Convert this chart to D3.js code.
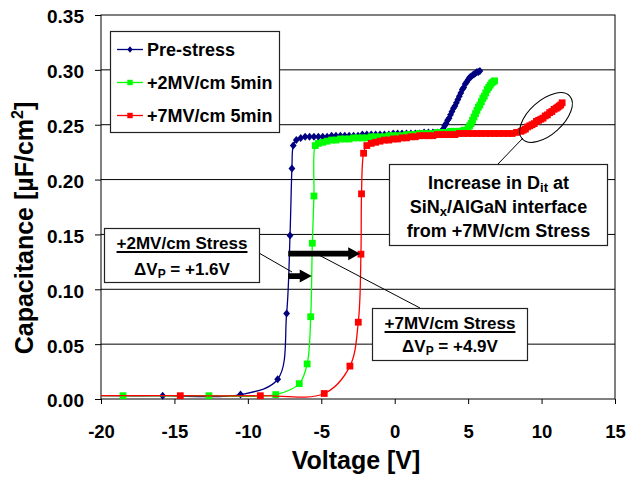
<!DOCTYPE html>
<html>
<head>
<meta charset="utf-8">
<script src="https://cdn.jsdelivr.net/npm/d3@7"></script>
<style>
body { margin: 0; background: #fff; }
text { font-family: "Liberation Sans", Arial, sans-serif; font-weight: bold; fill: #000; }
</style>
</head>
<body>
<div id="chart"></div>
<script>
// C-V sweeps : voltage [V] and capacitance [uF/cm2]
var preV = [-20, -15.8, -10.5, -7.97, -7.36, -7.13, -7.0, -6.91,
  -6.7, -6.4, -6.1, -5.8, -5.5, -5.2, -4.9, -4.6, -4.3, -4.0, -3.7, -3.4, -3.1, -2.8, -2.5, -2.2, -1.9, -1.6,
  -1.3, -1.0, -0.7, -0.4, -0.1, 0.2, 0.5, 0.8, 1.1, 1.4, 1.7, 2.0, 2.3, 2.6, 2.9, 3.2,
  3.3, 3.4, 3.5, 3.6, 3.7, 3.8, 3.9, 4.0, 4.1, 4.2, 4.3, 4.4, 4.5, 4.6, 4.7, 4.8, 4.9,
  5.0, 5.1, 5.2, 5.3, 5.4, 5.5, 5.6, 5.7, 5.8]
var preC = [0.003, 0.003, 0.004, 0.018, 0.078, 0.149, 0.210, 0.231,
  0.236, 0.238, 0.239, 0.239, 0.239, 0.239, 0.239, 0.239, 0.240, 0.240, 0.240, 0.240, 0.240, 0.240, 0.240, 0.241, 0.241, 0.241,
  0.241, 0.241, 0.241, 0.241, 0.242, 0.242, 0.242, 0.242, 0.242, 0.242, 0.242, 0.243, 0.243, 0.243, 0.243, 0.244,
  0.246, 0.249, 0.251, 0.254, 0.256, 0.259, 0.262, 0.265, 0.267, 0.270, 0.273, 0.276, 0.279, 0.282, 0.284, 0.287, 0.289,
  0.291, 0.293, 0.294, 0.295, 0.296, 0.297, 0.298, 0.298, 0.299]

var mv2V = [-20, -18.5, -12.65, -8.1, -6.5, -5.96, -5.72, -5.61, -5.5, -5.41,
  -5.2, -4.9, -4.6, -4.3, -4.0, -3.7, -3.4, -3.1, -2.8, -2.5, -2.2, -1.9, -1.6, -1.3, -1.0, -0.7, -0.4, -0.1,
  0.2, 0.5, 0.8, 1.1, 1.4, 1.7, 2.0, 2.3, 2.6, 2.9, 3.2, 3.5, 3.8, 4.1, 4.4, 4.7, 5.0,
  5.1, 5.2, 5.3, 5.4, 5.5, 5.6, 5.7, 5.8, 5.9, 6.0, 6.1, 6.2, 6.3, 6.4, 6.5, 6.6, 6.7, 6.8]
var mv2C = [0.003, 0.003, 0.003, 0.004, 0.014, 0.032, 0.075, 0.142, 0.185, 0.231,
  0.233, 0.234, 0.235, 0.236, 0.236, 0.237, 0.237, 0.237, 0.238, 0.238, 0.238, 0.238, 0.239, 0.239, 0.239, 0.239, 0.240, 0.240,
  0.240, 0.240, 0.241, 0.241, 0.241, 0.242, 0.242, 0.242, 0.242, 0.243, 0.243, 0.243, 0.244, 0.244, 0.244, 0.245, 0.247,
  0.249, 0.251, 0.254, 0.257, 0.260, 0.263, 0.266, 0.268, 0.271, 0.274, 0.276, 0.279, 0.282, 0.284, 0.286, 0.288, 0.289, 0.290]

var mv7V = [-20, -14.6, -9.15, -4.8, -3.05, -2.48, -2.3, -2.26, -2.12, -1.9,
  -1.6, -1.3, -1.0, -0.7, -0.4, -0.1, 0.2, 0.5, 0.8, 1.1, 1.4, 1.7, 2.0, 2.3, 2.6, 2.9, 3.2, 3.5, 3.8, 4.1,
  4.4, 4.7, 5.0, 5.3, 5.6, 5.9, 6.2, 6.5, 6.8, 7.1, 7.4, 7.7, 8.0, 8.3, 8.6,
  8.75, 8.9, 9.05, 9.2, 9.35, 9.5, 9.65, 9.8, 9.95, 10.1, 10.25, 10.4, 10.55, 10.7, 10.85, 11.0, 11.1, 11.2, 11.3, 11.4]
var mv7C = [0.003, 0.003, 0.003, 0.005, 0.030, 0.070, 0.132, 0.187, 0.224, 0.231,
  0.233, 0.234, 0.235, 0.236, 0.236, 0.237, 0.237, 0.238, 0.238, 0.239, 0.239, 0.240, 0.240, 0.240, 0.240, 0.241, 0.241, 0.241, 0.241, 0.241,
  0.242, 0.242, 0.242, 0.242, 0.242, 0.242, 0.242, 0.242, 0.242, 0.242, 0.242, 0.242, 0.242, 0.243, 0.244,
  0.245, 0.246, 0.248, 0.249, 0.250, 0.251, 0.253, 0.254, 0.255, 0.256, 0.258, 0.259, 0.261, 0.262, 0.264, 0.265, 0.266, 0.267, 0.268, 0.270]

var seriesNames = ["Pre-stress", "+2MV/cm 5min", "+7MV/cm 5min"]
var seriesColors = ["#000080", "#00ff00", "#ff0000"]
var seriesShapes = ["diamond", "square", "square"]

var xTicks = [-20, -15, -10, -5, 0, 5, 10, 15]
var yTicks = [0, 0.05, 0.10, 0.15, 0.20, 0.25, 0.30, 0.35]

// pinch-off shifts shown by the arrows (from, to, level)
var shiftFrom = [-7.25, -7.25]
var shiftTo = [-5.65, -2.35]
var shiftLevel = [0.112, 0.1325]

// Dimensions
var width = 629
var height = 479
var margin = {top: 15, right: 14, bottom: 80, left: 101}
var w = width - margin.left - margin.right
var h = height - margin.top - margin.bottom

const svg = d3.select("#chart")
  .append("svg")
    .attr("width", width)
    .attr("height", height)

const x = d3.scaleLinear().domain([-20, 15]).range([0, w])
const y = d3.scaleLinear().domain([0, 0.35]).range([h, 0])

const plot = svg.append("g")
  .attr("transform", "translate(" + margin.left + "," + margin.top + ")")

// Gridlines
plot.append("g")
  .selectAll("line")
  .data(yTicks.slice(1, -1))
  .join("line")
    .attr("x1", 0)
    .attr("x2", w)
    .attr("y1", d => y(d))
    .attr("y2", d => y(d))
    .attr("stroke", "#000")
    .attr("stroke-width", 1)

// Axes
const yAxis = plot.append("g")
  .call(d3.axisLeft(y).tickValues(yTicks).tickFormat(d3.format(".2f")).tickSize(6).tickPadding(11))
yAxis.select(".domain").remove()
yAxis.selectAll("text").style("font-size", "19px").attr("dy", "0.42em")

const xAxis = plot.append("g")
  .attr("transform", "translate(0," + h + ")")
  .call(d3.axisBottom(x).tickValues(xTicks).tickFormat(d => String(d)).tickSize(5).tickPadding(21))
xAxis.select(".domain").remove()
xAxis.selectAll("text").style("font-size", "18.5px")

plot.append("rect")
  .attr("width", w)
  .attr("height", h)
  .attr("fill", "none")
  .attr("stroke", "#000")
  .attr("stroke-width", 1)

// Axis titles
svg.append("text")
  .attr("x", 356)
  .attr("y", 469)
  .attr("text-anchor", "middle")
  .style("font-size", "25px")
  .text("Voltage [V]")

const yTitle = svg.append("text")
  .attr("transform", "translate(33,228) rotate(-90)")
  .attr("text-anchor", "middle")
  .style("font-size", "25px")
yTitle.append("tspan").text("Capacitance [µF/cm")
yTitle.append("tspan").attr("dy", -10).style("font-size", "16px").text("2")
yTitle.append("tspan").attr("dy", 10).text("]")

// Markers
function marker(shape) {
  if (shape == "diamond") return "M0,-4L3.4,0L0,4L-3.4,0Z"
  return "M-3.4,-3.4H3.4V3.4H-3.4Z"
}

const line = d3.line()
  .x(d => x(d[0]))
  .y(d => y(d[1]))
  .curve(d3.curveCatmullRom.alpha(0.5))

var allV = [preV, mv2V, mv7V]
var allC = [preC, mv2C, mv7C]

seriesNames.forEach(function(name, i) {
  var pts = allV[i].map((v, k) => [v, allC[i][k]])
  var g = plot.append("g")
  g.append("path")
    .datum(pts)
    .attr("d", line)
    .attr("fill", "none")
    .attr("stroke", seriesColors[i])
    .attr("stroke-width", 1.3)
  g.selectAll("path.pt")
    .data(pts.filter(d => d[0] > -20))
    .join("path")
      .attr("class", "pt")
      .attr("d", marker(seriesShapes[i]))
      .attr("transform", d => "translate(" + x(d[0]) + "," + y(d[1]) + ")")
      .attr("fill", seriesColors[i])
})

// Shift arrows
shiftFrom.forEach(function(f, i) {
  var x0 = x(f), x1 = x(shiftTo[i]), yy = y(shiftLevel[i])
  var xh = x1 - 12
  plot.append("path")
    .attr("d", "M" + x0 + "," + (yy - 2.8) + "L" + xh + "," + (yy - 2.8) + "L" + xh + "," + (yy - 6.5) +
      "L" + x1 + "," + yy + "L" + xh + "," + (yy + 6.5) + "L" + xh + "," + (yy + 2.8) + "L" + x0 + "," + (yy + 2.8) + "Z")
    .attr("fill", "#000")
})

// Legend
const legend = svg.append("g")
legend.append("rect")
  .attr("x", 110.5).attr("y", 31.5)
  .attr("width", 169).attr("height", 101)
  .attr("fill", "#fff")
  .attr("stroke", "#222")
  .attr("stroke-width", 1.2)

seriesNames.forEach(function(name, i) {
  var cy = 49.5 + i * 33
  legend.append("line")
    .attr("x1", 117).attr("x2", 143)
    .attr("y1", cy).attr("y2", cy)
    .attr("stroke", seriesColors[i])
    .attr("stroke-width", 1.3)
  legend.append("path")
    .attr("d", marker(seriesShapes[i]))
    .attr("transform", "translate(130," + cy + ") scale(0.8)")
    .attr("fill", seriesColors[i])
  legend.append("text")
    .attr("x", 147)
    .attr("y", cy + 6.3)
    .style("font-size", "18px")
    .text(name)
})

// Annotations
function box(x0, y0, x1, y1) {
  svg.append("rect")
    .attr("x", x0).attr("y", y0)
    .attr("width", x1 - x0).attr("height", y1 - y0)
    .attr("fill", "#fff")
    .attr("stroke", "#222")
    .attr("stroke-width", 1.2)
}
function connector(x0, y0, x1, y1) {
  svg.append("line")
    .attr("x1", x0).attr("y1", y0)
    .attr("x2", x1).attr("y2", y1)
    .attr("stroke", "#000")
    .attr("stroke-width", 1)
}
function underlined(cx, by, str, size) {
  var t = svg.append("text")
    .attr("x", cx).attr("y", by)
    .attr("text-anchor", "middle")
    .style("font-size", size + "px")
    .text(str)
  var len = t.node().getComputedTextLength()
  svg.append("line")
    .attr("x1", cx - len / 2).attr("x2", cx + len / 2)
    .attr("y1", by + 3.5).attr("y2", by + 3.5)
    .attr("stroke", "#000")
    .attr("stroke-width", 2)
}
function deltaV(cx, by, rest, size) {
  var t = svg.append("text")
    .attr("x", cx).attr("y", by)
    .attr("text-anchor", "middle")
    .style("font-size", size + "px")
  t.append("tspan").text("ΔV")
  t.append("tspan").attr("dy", 3).style("font-size", "12px").text("P")
  t.append("tspan").attr("dy", -3).text(rest)
}

connector(259, 253, 292, 272)
connector(315, 253, 420, 308)
connector(498, 164, 523, 138)

box(104.5, 228.5, 259.5, 282.5)
underlined(182, 248.5, "+2MV/cm Stress", 17)
deltaV(182, 274.5, " = +1.6V", 17)

box(372.5, 308.5, 527.5, 360.5)
underlined(450, 328.5, "+7MV/cm Stress", 17)
deltaV(450, 352, " = +4.9V", 17)

box(389.5, 164.5, 607.5, 245.5)
var t1 = svg.append("text").attr("x", 498.5).attr("y", 188.5).attr("text-anchor", "middle").style("font-size", "18px")
t1.append("tspan").text("Increase in D")
t1.append("tspan").attr("dy", 3).style("font-size", "13px").text("it")
t1.append("tspan").attr("dy", -3).text(" at")
var t2 = svg.append("text").attr("x", 498.5).attr("y", 212.5).attr("text-anchor", "middle").style("font-size", "18px")
t2.append("tspan").text("SiN")
t2.append("tspan").attr("dy", 3).style("font-size", "13px").text("x")
t2.append("tspan").attr("dy", -3).text("/AlGaN interface")
svg.append("text").attr("x", 498.5).attr("y", 237).attr("text-anchor", "middle").style("font-size", "18px")
  .text("from +7MV/cm Stress")

svg.append("ellipse")
  .attr("transform", "translate(546,117.5) rotate(-42)")
  .attr("rx", 32)
  .attr("ry", 17)
  .attr("fill", "none")
  .attr("stroke", "#000")
  .attr("stroke-width", 1)
</script>
</body>
</html>
